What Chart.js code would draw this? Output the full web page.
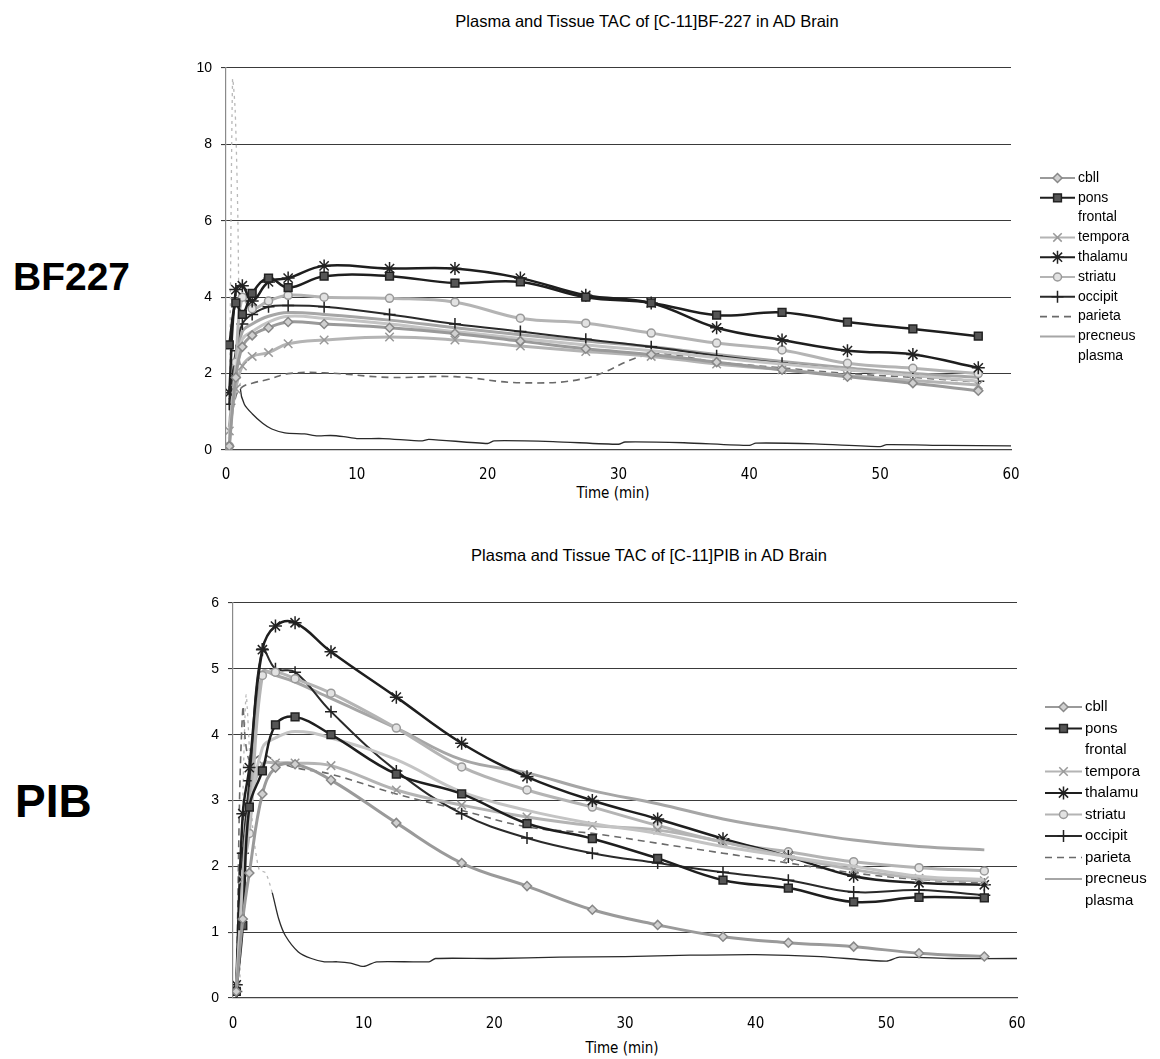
<!DOCTYPE html>
<html>
<head>
<meta charset="utf-8">
<script src="https://cdn.jsdelivr.net/npm/chart.js@4.4.0/dist/chart.umd.min.js"></script>
<style>
  html, body { margin: 0; padding: 0; background: #fff; }
  body { width: 1160px; height: 1059px; position: relative; overflow: hidden;
         font-family: "Liberation Sans", Arial, sans-serif; color: #000; }
  .box { position: absolute; }
  .title { position: absolute; width: 500px; text-align: center; font-size: 16.5px; line-height: 18px; white-space: nowrap; }
  .xtitle { position: absolute; width: 200px; text-align: center; font-size: 15px; line-height: 16px;
            font-family: "Liberation Sans Narrow", "DejaVu Sans Condensed", "Liberation Sans", Arial, sans-serif; }
  .tag { position: absolute; font-weight: bold; line-height: 1; white-space: nowrap; }
</style>
</head>
<body>
<div class="tag" style="left:13px; top:257px; font-size:39px;">BF227</div>
<div class="tag" style="left:15px; top:778px; font-size:46px;">PIB</div>

<div class="title" style="left:397px; top:12px;">Plasma and Tissue TAC of [C-11]BF-227 in AD Brain</div>
<div class="xtitle" style="left:513px; top:485px;">Time (min)</div>
<div class="box" style="left:150px; top:0px; width:1010px; height:510px;"><canvas id="bf"></canvas></div>

<div class="title" style="left:399px; top:546px;">Plasma and Tissue TAC of [C-11]PIB in AD Brain</div>
<div class="xtitle" style="left:522px; top:1040px;">Time (min)</div>
<div class="box" style="left:150px; top:530px; width:1010px; height:529px;"><canvas id="pib"></canvas></div>

<script>
// ---- [C-11]BF-227, frame mid-times (min) and regional TAC values ----
const timesBF = [0.25, 0.75, 1.25, 2.0, 3.25, 4.75, 7.5, 12.5, 17.5, 22.5, 27.5, 32.5, 37.5, 42.5, 47.5, 52.5, 57.5];
const cbllBF     = [0.1, 1.9, 2.7, 3.0, 3.2, 3.35, 3.3, 3.2, 3.05, 2.85, 2.65, 2.5, 2.3, 2.1, 1.92, 1.75, 1.55];
const ponsBF     = [2.75, 3.85, 3.55, 4.1, 4.5, 4.25, 4.55, 4.55, 4.37, 4.4, 4.0, 3.85, 3.53, 3.6, 3.35, 3.17, 2.98];
const frontalBF  = [0.3, 2.0, 2.9, 3.1, 3.35, 3.5, 3.45, 3.3, 3.1, 2.92, 2.75, 2.6, 2.42, 2.25, 2.1, 1.95, 1.8];
const temporaBF  = [0.5, 1.6, 2.2, 2.45, 2.55, 2.78, 2.88, 2.96, 2.88, 2.72, 2.58, 2.45, 2.25, 2.1, 1.95, 1.82, 1.7];
const thalamuBF  = [1.5, 4.2, 4.3, 3.9, 4.4, 4.5, 4.82, 4.75, 4.75, 4.5, 4.05, 3.85, 3.2, 2.88, 2.6, 2.5, 2.15];
const striatuBF  = [0.1, 2.3, 4.0, 3.7, 3.9, 4.05, 4.0, 3.97, 3.87, 3.45, 3.32, 3.06, 2.8, 2.62, 2.27, 2.14, 2.0];
const occipitBF  = [1.2, 2.6, 3.3, 3.55, 3.75, 3.78, 3.75, 3.55, 3.3, 3.1, 2.9, 2.7, 2.47, 2.27, 2.1, 1.95, 1.8];
const parietaBF  = [0.4, 1.4, 1.65, 1.75, 1.85, 2.0, 2.02, 1.9, 1.92, 1.76, 1.88, 2.5, 2.3, 2.15, 2.0, 1.9, 1.78];
const precneusBF = [0.6, 2.2, 3.1, 3.3, 3.5, 3.6, 3.55, 3.4, 3.2, 3.02, 2.85, 2.7, 2.5, 2.32, 2.15, 2.0, 1.9];
// arterial plasma samples
const plasmaTimesBF = [0.25, 0.5, 0.7, 0.9, 1.1, 1.4, 2, 2.8, 3.5, 4.5, 6, 7, 8, 9, 10, 12, 15, 15.5, 20, 20.5, 25, 30, 30.5, 35, 40, 40.5, 45, 50, 50.5, 55, 60];
const plasmaBF      = [0.1, 9.7, 8.9, 6.2, 1.6, 1.2, 0.95, 0.7, 0.55, 0.45, 0.42, 0.37, 0.38, 0.35, 0.3, 0.3, 0.24, 0.28, 0.17, 0.24, 0.22, 0.15, 0.21, 0.19, 0.12, 0.18, 0.16, 0.09, 0.14, 0.12, 0.11];

// ---- [C-11]PIB ----
const timesPIB = [0.25, 0.75, 1.25, 2.25, 3.25, 4.75, 7.5, 12.5, 17.5, 22.5, 27.5, 32.5, 37.5, 42.5, 47.5, 52.5, 57.5];
const cbllPIB     = [0.1, 1.2, 1.9, 3.1, 3.5, 3.55, 3.31, 2.66, 2.05, 1.7, 1.34, 1.11, 0.93, 0.84, 0.78, 0.68, 0.63];
const ponsPIB     = [0.1, 1.1, 2.9, 3.45, 4.15, 4.27, 4.0, 3.4, 3.1, 2.65, 2.42, 2.12, 1.79, 1.67, 1.46, 1.53, 1.52];
const frontalPIB  = [0.1, 1.6, 2.7, 3.8, 3.95, 4.05, 3.95, 3.62, 3.13, 2.85, 2.65, 2.5, 2.3, 2.15, 2.0, 1.85, 1.8];
const temporaPIB  = [0.1, 1.8, 2.9, 3.55, 3.57, 3.57, 3.53, 3.16, 2.93, 2.75, 2.62, 2.55, 2.37, 2.15, 1.95, 1.82, 1.78];
const thalamuPIB  = [0.2, 2.8, 3.5, 5.29, 5.65, 5.7, 5.26, 4.57, 3.87, 3.36, 3.0, 2.72, 2.42, 2.15, 1.85, 1.75, 1.72];
const striatuPIB  = [0.1, 1.9, 2.5, 4.9, 4.95, 4.85, 4.63, 4.1, 3.51, 3.16, 2.9, 2.62, 2.37, 2.22, 2.07, 1.98, 1.93];
const occipitPIB  = [0.1, 2.2, 3.3, 5.3, 5.0, 4.95, 4.35, 3.45, 2.8, 2.43, 2.2, 2.05, 1.91, 1.79, 1.61, 1.64, 1.56];
const parietaPIB  = [0.1, 4.4, 3.6, 3.7, 3.6, 3.5, 3.4, 3.1, 2.85, 2.6, 2.5, 2.35, 2.2, 2.05, 1.9, 1.8, 1.75];
const precneusPIB = [0.1, 2.0, 3.0, 4.95, 4.9, 4.8, 4.55, 4.1, 3.62, 3.42, 3.15, 2.95, 2.72, 2.55, 2.4, 2.3, 2.25];
const plasmaTimesPIB = [0.25, 0.5, 0.75, 1.0, 1.25, 1.5, 2.0, 2.5, 3.0, 3.5, 4, 5, 6, 7, 8, 9, 10, 11, 15, 15.5, 20, 25, 30, 35, 40, 45, 50, 51, 55, 60];
const plasmaPIB      = [0, 0.1, 3.0, 4.6, 3.8, 2.6, 1.95, 1.9, 1.6, 1.2, 0.95, 0.7, 0.6, 0.55, 0.55, 0.53, 0.48, 0.55, 0.55, 0.6, 0.6, 0.62, 0.63, 0.65, 0.66, 0.63, 0.56, 0.62, 0.6, 0.6];

// axis ticks
const xTicks = { min: 0, max: 60, step: 10 };
const yTicksBF = { min: 0, max: 10, step: 2 };
const yTicksPIB = { min: 0, max: 6, step: 1 };

// ---- line / marker styles per region ----
const DARK = '#1e1e1e', MID = '#9a9a9a', LIGHT = '#b4b4b4';
const styles = {
  cbll:     { borderColor: MID,   borderWidth: 3, pointStyle: 'rectRot', pointRadius: 4.5, pointBackgroundColor: '#d0d0d0', pointBorderColor: '#888', pointBorderWidth: 1.5 },
  pons:     { borderColor: DARK,  borderWidth: 2.5, pointStyle: 'rect', pointRadius: 5.5, pointBackgroundColor: '#555', pointBorderColor: '#222', pointBorderWidth: 1.5 },
  frontal:  { borderColor: '#c4c4c4', borderWidth: 3, pointRadius: 0, legendSample: false },
  tempora:  { borderColor: LIGHT, borderWidth: 3, pointStyle: 'crossRot', pointRadius: 6, pointBackgroundColor: '#fff', pointBorderColor: '#999', pointBorderWidth: 1.5 },
  thalamu:  { borderColor: DARK,  borderWidth: 2.5, pointStyle: 'star', pointRadius: 6.5, pointBackgroundColor: '#fff', pointBorderColor: '#222', pointBorderWidth: 1.5 },
  striatu:  { borderColor: LIGHT, borderWidth: 3, pointStyle: 'circle', pointRadius: 4, pointBackgroundColor: '#e2e2e2', pointBorderColor: '#999', pointBorderWidth: 1.5 },
  occipit:  { borderColor: '#2a2a2a', borderWidth: 2, pointStyle: 'cross', pointRadius: 6, pointBackgroundColor: '#fff', pointBorderColor: '#222', pointBorderWidth: 1.5 },
  parieta:  { borderColor: '#6a6a6a', borderWidth: 1.6, borderDash: [7, 5], pointRadius: 0 },
  precneus: { borderColor: '#a6a6a6', borderWidth: 3, pointRadius: 0 },
  plasma:   { borderColor: '#2a2a2a', borderWidth: 1.3, pointRadius: 0, legendSample: false, tension: 0.25 }
};

function series(label, times, values, extra) {
  return Object.assign({
    label,
    data: times.map((t, i) => ({ x: t, y: values[i] })),
    tension: 0.4,
    fill: false,
    pointHoverRadius: 0
  }, styles[label], extra || {});
}

// early plasma peak drawn faint and dashed
function faintAbove(limit) {
  const hi = c => c.p0.parsed.y > limit || c.p1.parsed.y > limit;
  return { segment: { borderColor: c => hi(c) ? '#b8b8b8' : undefined, borderDash: c => hi(c) ? [3, 4] : undefined } };
}

// line sample + marker + name, drawn in the right margin
const sampleLegend = {
  id: 'sampleLegend',
  afterDraw(chart, args, o) {
    const ctx = chart.ctx;
    ctx.save();
    ctx.font = o.font;
    ctx.textBaseline = 'middle';
    ctx.fillStyle = '#000';
    chart.data.datasets.forEach((ds, i) => {
      const y = o.top + i * o.rowGap;
      if (ds.legendSample !== false) {
        ctx.save();
        ctx.strokeStyle = ds.borderColor;
        ctx.lineWidth = Math.min(ds.borderWidth, 2);
        ctx.setLineDash(ds.borderDash || []);
        ctx.beginPath();
        ctx.moveTo(o.left, y);
        ctx.lineTo(o.left + o.lineLen, y);
        ctx.stroke();
        ctx.setLineDash([]);
        if (ds.pointStyle && ds.pointRadius > 0) {
          ctx.fillStyle = ds.pointBackgroundColor;
          ctx.strokeStyle = ds.pointBorderColor;
          ctx.lineWidth = ds.pointBorderWidth;
          Chart.helpers.drawPoint(ctx, { pointStyle: ds.pointStyle, radius: ds.pointRadius, rotation: 0, borderWidth: ds.pointBorderWidth }, o.left + o.lineLen / 2, y);
        }
        ctx.restore();
      }
      ctx.fillText(ds.label, o.left + o.lineLen + o.textGap, y);
    });
    ctx.restore();
  }
};

const tickFont = { family: '"Liberation Sans", Arial, sans-serif', size: 14 };
const xTickFont = { family: '"Liberation Sans Narrow", "DejaVu Sans Condensed", "Liberation Sans", Arial, sans-serif', size: 15 };

function makeChart(id, datasets, yT, geo, legend) {
  return new Chart(document.getElementById(id), {
    type: 'line',
    data: { datasets },
    plugins: [sampleLegend],
    options: {
      responsive: true,
      maintainAspectRatio: false,
      animation: false,
      devicePixelRatio: 1,
      layout: { padding: { top: geo.top, right: geo.right, left: 0, bottom: 0 } },
      plugins: { legend: { display: false }, tooltip: { enabled: false }, sampleLegend: legend },
      scales: {
        x: {
          type: 'linear', min: xTicks.min, max: xTicks.max,
          ticks: { stepSize: xTicks.step, padding: geo.xPad, color: '#000', font: xTickFont, maxRotation: 0 },
          grid: { display: false },
          border: { display: true, color: '#444', width: 1.2 },
          afterFit: s => { s.height = geo.xHeight; }
        },
        y: {
          min: yT.min, max: yT.max,
          ticks: { stepSize: yT.step, padding: 9, color: '#000', font: tickFont },
          grid: { color: '#3a3a3a', lineWidth: 1.1, tickLength: 5 },
          border: { display: true, color: '#8a8a8a', width: 1.2 },
          afterFit: s => { s.width = geo.yWidth; }
        }
      }
    }
  });
}

makeChart('bf', [
  series('cbll', timesBF, cbllBF),
  series('pons', timesBF, ponsBF),
  series('frontal', timesBF, frontalBF),
  series('tempora', timesBF, temporaBF),
  series('thalamu', timesBF, thalamuBF),
  series('striatu', timesBF, striatuBF),
  series('occipit', timesBF, occipitBF),
  series('parieta', timesBF, parietaBF),
  series('precneus', timesBF, precneusBF),
  series('plasma', plasmaTimesBF, plasmaBF, faintAbove(1.7))
], yTicksBF,
  { top: 68, right: 149, yWidth: 76, xHeight: 60, xPad: 8 },
  { left: 890, top: 178, rowGap: 19.8, lineLen: 35, textGap: 3, font: '14px "Liberation Sans", Arial, sans-serif' });

makeChart('pib', [
  series('cbll', timesPIB, cbllPIB),
  series('pons', timesPIB, ponsPIB),
  series('frontal', timesPIB, frontalPIB),
  series('tempora', timesPIB, temporaPIB),
  series('thalamu', timesPIB, thalamuPIB),
  series('striatu', timesPIB, striatuPIB),
  series('occipit', timesPIB, occipitPIB),
  series('parieta', timesPIB, parietaPIB),
  series('precneus', timesPIB, precneusPIB),
  series('plasma', plasmaTimesPIB, plasmaPIB, faintAbove(1.85))
], yTicksPIB,
  { top: 73, right: 143, yWidth: 83, xHeight: 61, xPad: 9 },
  { left: 895, top: 177, rowGap: 21.5, lineLen: 37, textGap: 3, font: '15px "Liberation Sans", Arial, sans-serif' });
</script>
</body>
</html>
